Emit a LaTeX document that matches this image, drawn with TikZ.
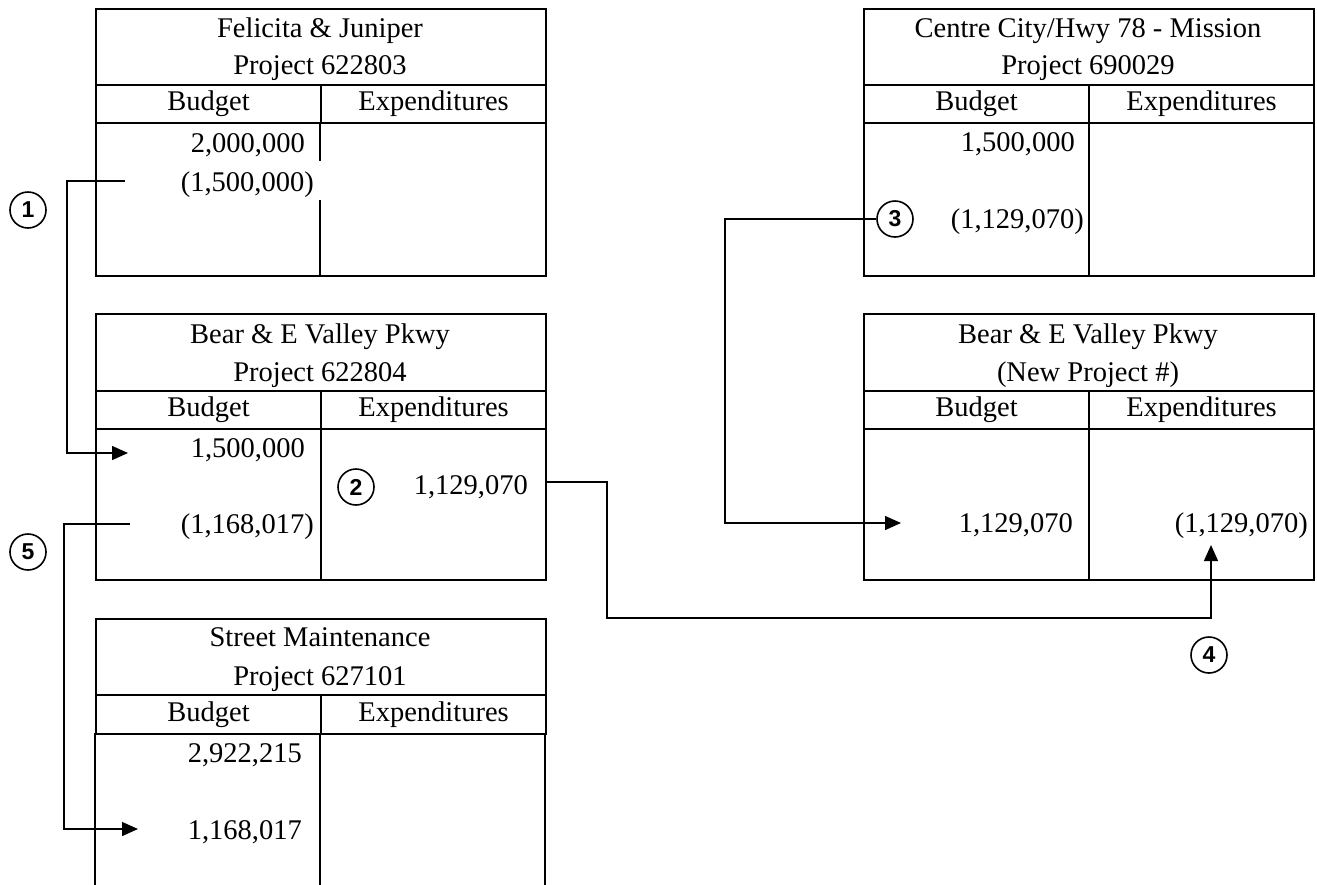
\documentclass[tikz,border=0pt]{standalone}
\usepackage{fontspec}
\setmainfont{Liberation Serif}
\setsansfont{Liberation Sans}
\usetikzlibrary{arrows.meta}
\tikzset{
  cell/.style={draw, line width=2.2pt, rectangle, inner sep=0pt, anchor=north west},
  txt/.style={font=\fontsize{28.5}{37}\selectfont, inner sep=0pt},
  ttl/.style={txt, anchor=base},
  num/.style={txt, anchor=base east},
  badge/.style={circle, draw, line width=1.6pt, minimum size=36pt, inner sep=0pt,
                font=\fontsize{23}{23}\selectfont\sffamily\bfseries},
  conn/.style={line width=1.4pt},
  arr/.style={conn, -{Triangle[length=16pt,width=14pt]}},
  frame/.style={line width=2.2pt},
}
\begin{document}
\begin{tikzpicture}[x=1pt,y=-1pt]
\useasboundingbox (0,0) rectangle (1317,884);

% ---------- Felicita & Juniper ----------
\node[cell, minimum width=450pt, minimum height=76pt] (fj-title) at (95,8) {};
\node[cell, minimum width=225pt, minimum height=38pt] (fj-hb) at (95,84) {};
\node[cell, minimum width=225pt, minimum height=38pt] (fj-he) at (320,84) {};
\node[cell, minimum width=450pt, minimum height=153pt] (fj-body) at (95,122) {};
\draw[frame] (320,122) -- (320,161);
\draw[frame] (320,200) -- (320,275);
\node[ttl] (fj-t1) at (320,37) {Felicita \& Juniper};
\node[ttl] (fj-t2) at (320,74) {Project 622803};
\node[txt] (fj-b) at (fj-hb.center) {Budget};
\node[txt] (fj-e) at (fj-he.center) {Expenditures};
\node[num] (fj-v1) at (305,152) {2,000,000};
\node[num] (fj-v2) at (314,191) {(1,500,000)};

% ---------- Bear & E Valley Pkwy 622804 ----------
\node[cell, minimum width=450pt, minimum height=77pt] (bv-title) at (95,313) {};
\node[cell, minimum width=225pt, minimum height=38pt] (bv-hb) at (95,390) {};
\node[cell, minimum width=225pt, minimum height=38pt] (bv-he) at (320,390) {};
\node[cell, minimum width=225pt, minimum height=151pt] (bv-bb) at (95,428) {};
\node[cell, minimum width=225pt, minimum height=151pt] (bv-be) at (320,428) {};
\node[ttl] (bv-t1) at (320,343) {Bear \& E Valley Pkwy};
\node[ttl] (bv-t2) at (320,381) {Project 622804};
\node[txt] (bv-b) at (bv-hb.center) {Budget};
\node[txt] (bv-e) at (bv-he.center) {Expenditures};
\node[num] (bv-v1) at (305,457) {1,500,000};
\node[num] (bv-v2) at (314,533) {(1,168,017)};
\node[num] (bv-x1) at (528,494) {1,129,070};

% ---------- Street Maintenance 627101 ----------
\node[cell, minimum width=450pt, minimum height=76pt] (sm-title) at (95,618) {};
\node[cell, minimum width=225pt, minimum height=39pt] (sm-hb) at (95,694) {};
\node[cell, minimum width=225pt, minimum height=39pt] (sm-he) at (320,694) {};
\draw[frame] (95,733) -- (95,892);
\draw[frame] (320,733) -- (320,892);
\draw[frame] (545,733) -- (545,892);
\node[ttl] (sm-t1) at (320,646) {Street Maintenance};
\node[ttl] (sm-t2) at (320,685) {Project 627101};
\node[txt] (sm-b) at (sm-hb.center) {Budget};
\node[txt] (sm-e) at (sm-he.center) {Expenditures};
\node[num] (sm-v1) at (302,762) {2,922,215};
\node[num] (sm-v2) at (302,839) {1,168,017};

% ---------- Centre City/Hwy 78 - Mission 690029 ----------
\node[cell, minimum width=450pt, minimum height=76pt] (cc-title) at (863,8) {};
\node[cell, minimum width=225pt, minimum height=38pt] (cc-hb) at (863,84) {};
\node[cell, minimum width=225pt, minimum height=38pt] (cc-he) at (1088,84) {};
\node[cell, minimum width=225pt, minimum height=153pt] (cc-bb) at (863,122) {};
\node[cell, minimum width=225pt, minimum height=153pt] (cc-be) at (1088,122) {};
\node[ttl] (cc-t1) at (1088,37) {Centre City/Hwy 78 - Mission};
\node[ttl] (cc-t2) at (1088,74) {Project 690029};
\node[txt] (cc-b) at (cc-hb.center) {Budget};
\node[txt] (cc-e) at (cc-he.center) {Expenditures};
\node[num] (cc-v1) at (1075,151) {1,500,000};
\node[num] (cc-v2) at (1084,228) {(1,129,070)};

% ---------- Bear & E Valley Pkwy (New Project #) ----------
\node[cell, minimum width=450pt, minimum height=77pt] (nb-title) at (863,313) {};
\node[cell, minimum width=225pt, minimum height=38pt] (nb-hb) at (863,390) {};
\node[cell, minimum width=225pt, minimum height=38pt] (nb-he) at (1088,390) {};
\node[cell, minimum width=225pt, minimum height=151pt] (nb-bb) at (863,428) {};
\node[cell, minimum width=225pt, minimum height=151pt] (nb-be) at (1088,428) {};
\node[ttl] (nb-t1) at (1088,343) {Bear \& E Valley Pkwy};
\node[ttl] (nb-t2) at (1088,381) {(New Project \#)};
\node[txt] (nb-b) at (nb-hb.center) {Budget};
\node[txt] (nb-e) at (nb-he.center) {Expenditures};
\node[num] (nb-v1) at (1073,532) {1,129,070};
\node[num] (nb-v2) at (1308,532) {(1,129,070)};

% ---------- badges ----------
\node[badge] (n1) at (28,210) {1};
\node[badge] (n2) at (356,487) {2};
\node[badge] (n3) at (895,219) {3};
\node[badge] (n4) at (1209,655) {4};
\node[badge] (n5) at (28,552) {5};

% ---------- connectors ----------
\coordinate (c1s) at (125,181);
\coordinate (c1e) at (128,453);
\draw[arr] (c1s) -- (67,181) |- (c1e);

\coordinate (c2s) at (bv-be.east |- 0,482);
\coordinate (c2m) at (1211,618);
\coordinate (c2e) at (1211,545);
\draw[arr] (c2s) -- (607,482) |- (c2m) -- (c2e);

\coordinate (c3e) at (901,523);
\draw[arr] (n3.west) -- (725,219) |- (c3e);

\coordinate (c5s) at (130,524);
\coordinate (c5e) at (138,829);
\draw[arr] (c5s) -- (64,524) |- (c5e);
\end{tikzpicture}
\end{document}
